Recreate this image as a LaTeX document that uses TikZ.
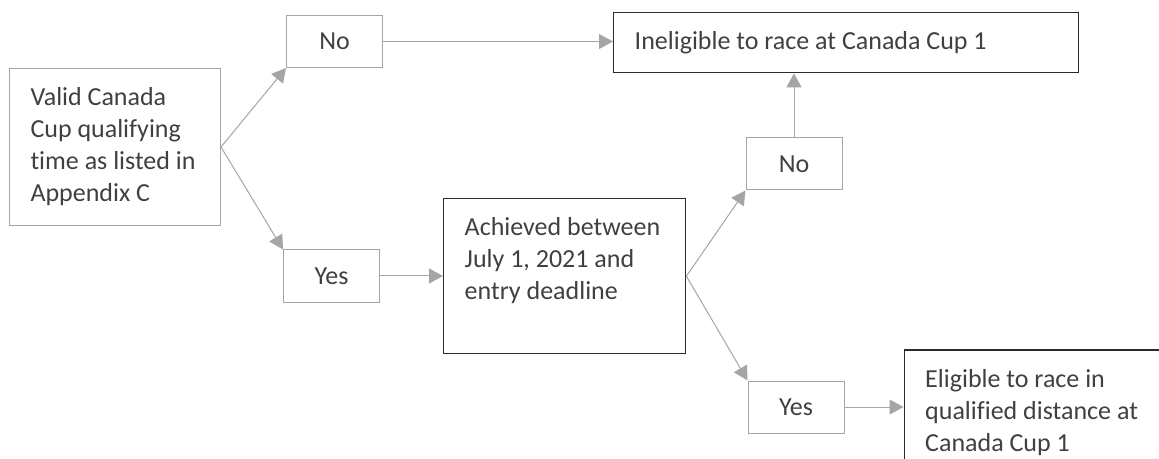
\documentclass[tikz,border=0pt]{standalone}
\usepackage{fontspec}
\setmainfont{Carlito}[Ligatures={NoCommon}]
\usetikzlibrary{arrows.meta, positioning}
\definecolor{linegray}{HTML}{A5A5A5}
\definecolor{textgray}{HTML}{404040}
\definecolor{edgedark}{HTML}{2B2B2B}
\tikzset{>={Triangle[length=7pt, width=7.5pt]}}
\newcommand{\boxtext}[3]{\hspace*{10.5pt}\parbox[t][#2][t]{#1}{\raggedright #3}}

\begin{document}
\begin{tikzpicture}[x=0.5pt, y=-0.5pt,
    every node/.style={font=\fontsize{13}{16}\selectfont, text=textgray},
    answer/.style={draw=linegray, line width=0.5pt, minimum width=48pt, minimum height=26pt, inner sep=0pt},
    textbox/.style={draw=edgedark, line width=0.7pt, anchor=north west, inner xsep=0pt, inner ysep=9.5pt},
    flow/.style={->, draw=linegray, line width=0.5pt}]

\useasboundingbox (0,0) rectangle (1159,459);
\clip (0,0) rectangle (1159,459);

% --- Starting condition ---
\node[textbox, draw=linegray, line width=0.5pt] (valid) at (9,68)
  {\boxtext{95pt}{59.5pt}{Valid Canada\\Cup qualifying\\time as listed in\\Appendix C}};

% --- First answers ---
\node[answer] (no1) at (334.5,41.5) {No};
\node[answer] (yes1) at (331.5,276) {Yes};

% --- Date check ---
\node[textbox] (achv) at (443,198)
  {\boxtext{110.5pt}{58.5pt}{Achieved between\\July 1, 2021 and\\entry deadline}};

% --- Outcomes ---
\node[textbox] (inel) at (613,12)
  {\boxtext{222pt}{11pt}{Ineligible to race at Canada Cup 1}};

\node[answer] (no2) at (794,164) {No};
\node[answer] (yes2) at (796,407) {Yes};

\node[textbox, right=29.5pt of yes2] (elig)
  {\boxtext{135pt}{38pt}{Eligible to race in\\qualified distance at\\Canada Cup 1}};

% --- Connectors ---
\draw[flow] (valid.east) -- (no1.south west);
\draw[flow] (valid.east) -- (yes1.north west);
\draw[flow] (no1.east) -- (no1.east -| inel.west);
\draw[flow] (yes1.east) -- (yes1.east -| achv.west);
\draw[flow] (achv.east) -- (no2.south west);
\draw[flow] (achv.east) -- (yes2.north west);
\draw[flow] (no2.north) -- (no2.north |- inel.south);
\draw[flow] (yes2.east) -- (elig.west);

\end{tikzpicture}
\end{document}
